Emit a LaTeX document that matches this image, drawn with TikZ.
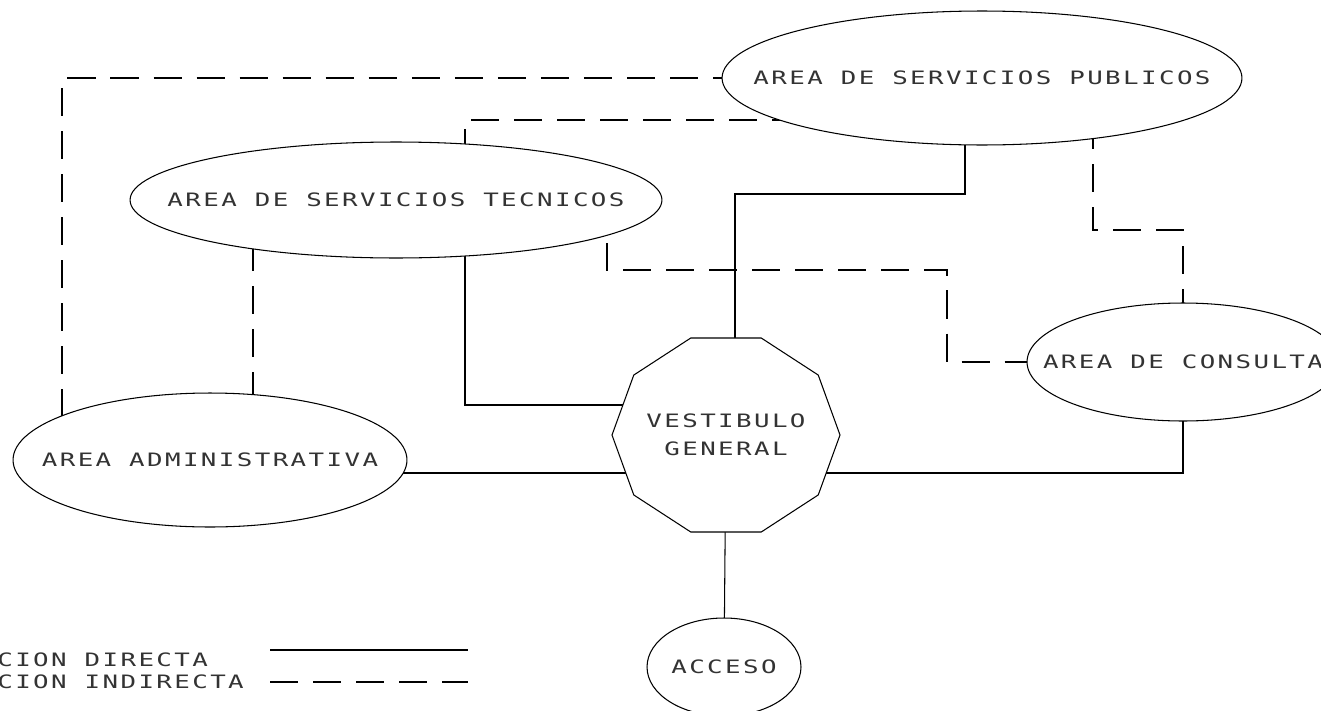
\documentclass[tikz,border=0pt]{standalone}
\usepackage{fontspec}
\newfontfamily\plotfont[LetterSpace=13, FakeStretch=1.4]{DejaVu Sans Mono}
\usetikzlibrary{shapes.geometric,calc,backgrounds}

\begin{document}
\begin{tikzpicture}[x=0.02cm, y=-0.02cm,
  area/.style={draw, ellipse, fill=white, inner sep=0pt, line width=0.6pt},
  lbl/.style={font=\plotfont\fontsize{10.5}{16}\selectfont, text=black!80,
              inner sep=0pt, align=center},
  direct/.style={draw, line width=0.6pt},
  indirect/.style={draw, line width=0.6pt, dash pattern=on 16pt off 8.5pt}
]
\useasboundingbox (0,0) rectangle (1321,710);

% Areas
\node[area, minimum width=10.4cm, minimum height=2.68cm,
      label={[lbl]center:AREA DE SERVICIOS PUBLICOS}] (pub) at (982,78) {};
\node[area, minimum width=10.64cm, minimum height=2.32cm,
      label={[lbl]center:AREA DE SERVICIOS TECNICOS}] (tec) at (396,200) {};
\node[area, minimum width=7.88cm, minimum height=2.68cm,
      label={[lbl]center:AREA ADMINISTRATIVA}] (adm) at (210,460) {};
\node[area, minimum width=6.24cm, minimum height=2.36cm,
      label={[lbl]center:AREA DE CONSULTA}] (cons) at (1183,362) {};
\node[area, minimum width=3.08cm, minimum height=1.96cm,
      label={[lbl]center:ACCESO}] (acc) at (724,667) {};

% Vestibulo (decagon)
\coordinate (vc) at (726,435);
\draw[line width=0.6pt, fill=white] ($(vc)+(0:114 and 102)$)
  \foreach \a in {36,72,...,324} { -- ($(vc)+(\a:114 and 102)$) } -- cycle;
\node[lbl] (vest) at (vc) {VESTIBULO\\GENERAL};

% Bends
\coordinate (vlow) at (726,473);
\coordinate (vhigh) at (726,405);
\coordinate (bendA) at (735,194);
\coordinate (bendC) at (947,270);
\coordinate (bendD) at (1183,230);

\begin{scope}[on background layer]
% Relacion directa
\draw[direct] (adm.center |- vlow) -- (vlow);
\draw[direct] (cons.center) |- (vlow);
\draw[direct] ($(tec.center)+(69,0)$) |- (vhigh);
\draw[direct] ($(pub.center)+(-17,0)$) |- (bendA) |- (vest.center);
\draw[direct] (vest.center) -- (acc.center);

% Relacion indirecta
\draw[indirect] ($(adm.center)+(-148,0)$) |- (pub.center);
\draw[indirect] ($(tec.center)+(-143,0)$) -- ($(adm.center)+(43,0)$);
\draw[indirect] ($(tec.center)+(69,0)$) |- ($(pub.center)+(0,42)$);
\draw[indirect] ($(tec.center)+(211,0)$) |- (bendC) |- (cons.center);
\draw[indirect] ($(pub.center)+(111,0)$) |- (bendD) -- (cons.center);
\end{scope}

% Legend
\node[lbl, anchor=west] (ldir) at (-3,660) {CION DIRECTA};
\node[lbl, anchor=west] (lind) at (-3,682) {CION INDIRECTA};
\coordinate (d1) at (270,650);
\coordinate (d2) at (468,650);
\coordinate (i1) at (270,682);
\coordinate (i2) at (468,682);
\draw[direct] (d1) -- (d2);
\draw[indirect] (i1) -- (i2);

\end{tikzpicture}
\end{document}
